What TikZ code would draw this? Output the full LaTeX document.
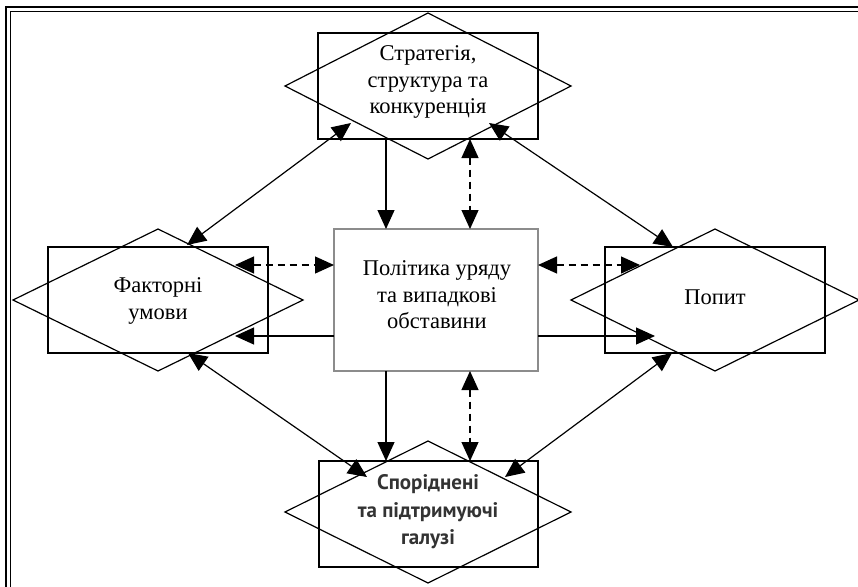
\documentclass[tikz,border=0pt]{standalone}
\usepackage{fontspec}
\setmainfont{Liberation Serif}
\newfontfamily\bsans{PT Sans}
\usetikzlibrary{arrows.meta}
\definecolor{boxgray}{HTML}{8C8C8C}
\definecolor{txtgray}{HTML}{333333}
\tikzset{
  box/.style={draw=black, line width=1.2pt, minimum width=220pt, minimum height=106pt, inner sep=0pt, outer sep=0pt},
  cbox/.style={draw=boxgray, line width=1.2pt, minimum width=204pt, minimum height=142pt, inner sep=0pt, outer sep=0pt, fill=white},
  dia/.style={draw=black, line width=1.2pt},
  lbl/.style={align=center, font=\fontsize{22.5}{26.5}\selectfont, inner sep=0pt},
  slbl/.style={align=center, font=\bsans\bfseries\fontsize{21}{27.5}\selectfont, text=txtgray, inner sep=0pt},
  tip/.style={Triangle[length=19pt,width=17pt]},
  con/.style={line width=1.2pt, -{Triangle[length=19pt,width=17pt]}},
  biarr/.style={line width=1.2pt, {Triangle[length=19pt,width=17pt]}-{Triangle[length=19pt,width=17pt]}},
  dbiarr/.style={biarr, dash pattern=on 7pt off 5pt},
  frame/.style={draw=black, line width=1.6pt}
}
\begin{document}
\begin{tikzpicture}[x=1pt,y=-1pt]
\useasboundingbox (0,0) rectangle (858,586);
\begin{scope}
\clip (0,0) rectangle (858,586);
\draw[frame] (6,7) rectangle (880,610);
\draw[draw=black, line width=1.1pt] (10.5,11.5) rectangle (876,606);
\end{scope}
% boxes
\node[box] (top) at (428,86) {};
\node[box] (lft) at (158,300) {};
\node[box] (rgt) at (715,300) {};
\node[box, minimum width=219pt] (bot) at (428.5,514) {};
\node[cbox] (ctr) at (436,300) {};
% diamonds
\draw[dia] (top.center) ++(-143,0) -- ++(143,-73) -- ++(143,73) -- ++(-143,73) -- cycle;
\draw[dia] (lft.center) ++(-145,0) -- ++(145,-71) -- ++(145,71) -- ++(-145,71) -- cycle;
\draw[dia] (rgt.center) ++(-144,0) -- ++(144,-71) -- ++(144,71) -- ++(-144,71) -- cycle;
\draw[dia] (428,512) ++(-143,0) -- ++(143,-71) -- ++(143,71) -- ++(-143,71) -- cycle;
% labels
\node[lbl] (ttop) at (428,82) {Стратегія,\\структура та\\конкуренція};
\node[lbl] (tlft) at (158,301) {Факторні\\умови};
\node[lbl] (tctr) at (437,295) {Політика уряду\\та випадкові\\обставини};
\node[lbl] (trgt) at (715,297) {Попит};
\node[slbl] (tbot) at (428,512) {Споріднені\\та підтримуючі\\галузі};
% helper coordinates
\coordinate (xl) at (386,0);
\coordinate (xr) at (470,0);
\coordinate (yu) at (0,265);
\coordinate (yd) at (0,336);
\coordinate (lu) at (235,265);
\coordinate (ld) at (235,336);
\coordinate (ru) at (640,265);
\coordinate (rd) at (655,336);
\coordinate (a1) at (351,123);
\coordinate (a2) at (187,245);
\coordinate (b1) at (489,123);
\coordinate (b2) at (673,247);
\coordinate (c1) at (188,353);
\coordinate (c2) at (367,477);
\coordinate (d1) at (672,353);
\coordinate (d2) at (505,477);
% connectors
\draw[con] (top.south -| xl) -- (ctr.north -| xl);
\draw[dbiarr] (top.south -| xr) -- (ctr.north -| xr);
\draw[con] (ctr.south -| xl) -- (bot.north -| xl);
\draw[dbiarr] (ctr.south -| xr) -- (bot.north -| xr);
\draw[dbiarr] (lu) -- (ctr.west |- yu);
\draw[dbiarr] (ctr.east |- yu) -- (ru);
\draw[con] (ctr.west |- yd) -- (ld);
\draw[con] (ctr.east |- yd) -- (rd);
\draw[biarr] (a1) -- (a2);
\draw[biarr] (b1) -- (b2);
\draw[biarr] (c1) -- (c2);
\draw[biarr] (d1) -- (d2);
\end{tikzpicture}
\end{document}
